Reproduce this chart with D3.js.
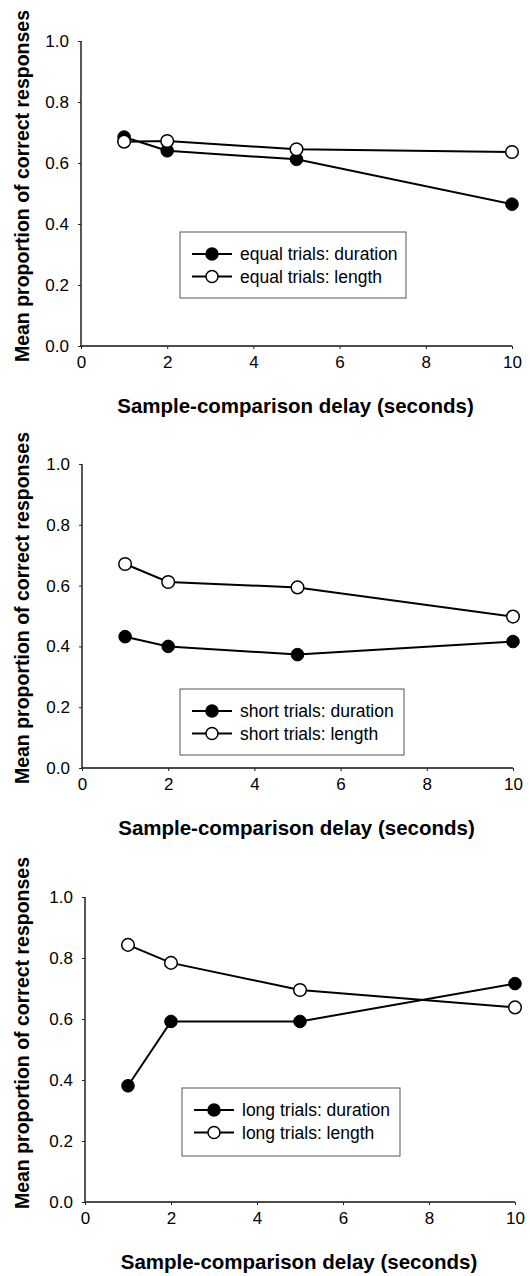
<!DOCTYPE html>
<html>
<head>
<meta charset="utf-8">
<script src="https://cdn.jsdelivr.net/npm/d3@7"></script>
<style>
  html, body { margin: 0; padding: 0; background: #fff; }
  svg { display: block; }
  text { font-family: "Liberation Sans", Arial, sans-serif; fill: #000; }
</style>
</head>
<body>
<svg id="chart" width="530" height="1276"></svg>
<script>
// ---- Data ----
const delays = [1, 2, 5, 10];
const xTicks = [0, 2, 4, 6, 8, 10];
const yTicks = [0, 0.2, 0.4, 0.6, 0.8, 1.0];

const equalDuration = [0.685, 0.64, 0.612, 0.465];
const equalLength   = [0.67, 0.672, 0.645, 0.636];
const shortDuration = [0.432, 0.40, 0.373, 0.416];
const shortLength   = [0.671, 0.612, 0.594, 0.498];
const longDuration  = [0.381, 0.592, 0.592, 0.716];
const longLength    = [0.843, 0.784, 0.695, 0.638];

const legendLabels = [
  ["equal trials: duration", "equal trials: length"],
  ["short trials: duration", "short trials: length"],
  ["long trials: duration", "long trials: length"]
];
const xTitle = "Sample-comparison delay (seconds)";
const yTitle = "Mean proportion of correct responses";

// ---- Layout (positions only) ----
const panels = [
  { dur: equalDuration, len: equalLength, labels: legendLabels[0],
    left: 81, right: 512, top: 41, bottom: 346, yTitleY: 186,
    legend: { x: 180, y: 232, w: 226, h: 66 } },
  { dur: shortDuration, len: shortLength, labels: legendLabels[1],
    left: 82, right: 513, top: 464, bottom: 768, yTitleY: 608,
    legend: { x: 180, y: 689, w: 224, h: 66 } },
  { dur: longDuration, len: longLength, labels: legendLabels[2],
    left: 85, right: 515, top: 897, bottom: 1202, yTitleY: 1033,
    legend: { x: 182, y: 1088, w: 218, h: 68 } }
];

const svg = d3.select("#chart");

panels.forEach(p => {
  const g = svg.append("g");
  const x = d3.scaleLinear().domain([0, 10]).range([p.left, p.right]);
  const y = d3.scaleLinear().domain([0, 1]).range([p.bottom, p.top]);

  // Y axis
  const yAxis = g.append("g")
    .attr("transform", `translate(${p.left},0)`)
    .call(d3.axisLeft(y).tickValues(yTicks).tickFormat(d3.format(".1f")).tickSize(3).tickPadding(9));
  // X axis
  const xAxis = g.append("g")
    .attr("transform", `translate(0,${p.bottom})`)
    .call(d3.axisBottom(x).tickValues(xTicks).tickFormat(d3.format("d")).tickSize(3).tickPadding(7));

  [yAxis, xAxis].forEach(a => {
    a.select(".domain").attr("stroke", "#111").attr("stroke-width", 1.4)
      .attr("d", a === yAxis ? `M0,${p.bottom}V${p.top}` : `M${p.left},0H${p.right}`);
    a.selectAll(".tick line").attr("stroke", "#222").attr("stroke-width", 1);
    a.selectAll(".tick text").attr("font-size", 17).attr("fill", "#000")
      .style("font-family", '"Liberation Sans", Arial, sans-serif');
  });

  // Axis titles
  g.append("text")
    .attr("x", (p.left + p.right) / 2 - 1)
    .attr("y", p.bottom + 67)
    .attr("text-anchor", "middle")
    .attr("font-size", 20.5).attr("font-weight", "bold")
    .text(xTitle);
  g.append("text")
    .attr("transform", `translate(29,${p.yTitleY}) rotate(-90)`)
    .attr("text-anchor", "middle")
    .attr("font-size", 19.5).attr("font-weight", "bold")
    .text(yTitle);

  const line = d3.line().x((d, i) => x(delays[i])).y(d => y(d));

  // Duration (filled)
  g.append("path").datum(p.dur).attr("d", line)
    .attr("fill", "none").attr("stroke", "#000").attr("stroke-width", 2);
  g.selectAll(".dDur").data(p.dur).enter().append("circle")
    .attr("cx", (d, i) => x(delays[i])).attr("cy", d => y(d)).attr("r", 6.3)
    .attr("fill", "#000").attr("stroke", "#000").attr("stroke-width", 1);

  // Length (open)
  g.append("path").datum(p.len).attr("d", line)
    .attr("fill", "none").attr("stroke", "#000").attr("stroke-width", 2);
  g.selectAll(".dLen").data(p.len).enter().append("circle")
    .attr("cx", (d, i) => x(delays[i])).attr("cy", d => y(d)).attr("r", 6.3)
    .attr("fill", "#fff").attr("stroke", "#000").attr("stroke-width", 1.5);

  // Legend
  const L = p.legend;
  const lg = g.append("g").attr("transform", `translate(${L.x},${L.y})`);
  lg.append("rect").attr("width", L.w).attr("height", L.h)
    .attr("fill", "#fff").attr("stroke", "#555").attr("stroke-width", 1);
  const rows = [
    { label: p.labels[0], fill: "#000", dy: 22 },
    { label: p.labels[1], fill: "#fff", dy: 44.5 }
  ];
  rows.forEach(r => {
    lg.append("line").attr("x1", 12).attr("x2", 52).attr("y1", r.dy).attr("y2", r.dy)
      .attr("stroke", "#000").attr("stroke-width", 2);
    lg.append("circle").attr("cx", 32).attr("cy", r.dy).attr("r", 6)
      .attr("fill", r.fill).attr("stroke", "#000").attr("stroke-width", 1.5);
    lg.append("text").attr("x", 60).attr("y", r.dy + 6)
      .attr("font-size", 17.5).text(r.label);
  });
});
</script>
</body>
</html>
